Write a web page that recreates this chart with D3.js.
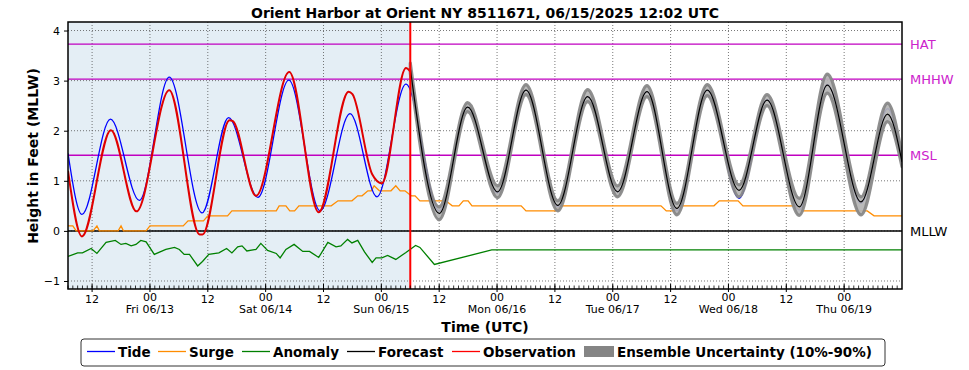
<!DOCTYPE html>
<html>
<head>
<meta charset="utf-8">
<script src="https://cdn.jsdelivr.net/npm/d3@7"></script>
<style>
  body { margin: 0; background: #fff; }
  text { font-family: "DejaVu Sans", sans-serif; }
</style>
</head>
<body>
<svg width="969" height="370"></svg>
<script>
// hours since 2025-06-12 07:00 UTC, water level in feet above MLLW
let tideHours = [0, 2.9, 8.8, 14.8, 21.0, 27.8, 33.3, 39.4, 45.8, 52.3, 58.5, 64.1, 70.1, 77.0, 82.9, 89.1, 95.0, 101.6, 107.8, 114.0, 120.1, 126.3, 132.6, 139.2, 145.0, 151.7, 157.5, 164.5, 170.0, 173.0];
let tideValues = [1.55, 0.33, 2.23, 0.61, 3.07, 0.36, 2.26, 0.67, 3.01, 0.40, 2.34, 0.68, 2.93, 0.40, 2.47, 0.76, 2.81, 0.48, 2.68, 0.78, 2.78, 0.40, 2.81, 0.65, 2.62, 0.42, 2.92, 0.55, 2.44, 1.38];

let obsHours = [0, 2.9, 8.9, 14.2, 21.0, 27.3, 27.9, 33.5, 34.2, 39.0, 45.9, 52.0, 58.2, 59.0, 63.1, 65.1, 70.1, 71.0];
let obsValues = [1.2, -0.11, 2.01, 0.39, 2.81, -0.07, -0.07, 2.21, 2.19, 0.70, 3.17, 0.37, 2.78, 2.73, 1.13, 0.95, 3.25, 3.18];

let fcHours = [71.0, 77.0, 82.9, 89.1, 95.0, 101.6, 107.8, 114.0, 120.1, 126.3, 132.6, 139.2, 145.0, 151.7, 157.5, 164.5, 170.0, 173.0];
let fcValues = [3.25, 0.35, 2.47, 0.78, 2.81, 0.51, 2.68, 0.78, 2.78, 0.45, 2.81, 0.81, 2.61, 0.48, 2.91, 0.58, 2.33, 1.38];
let ensLow = [3.15, 0.22, 2.38, 0.66, 2.72, 0.40, 2.58, 0.68, 2.68, 0.32, 2.70, 0.68, 2.50, 0.31, 2.75, 0.32, 2.18, 1.28];
let ensHigh = [3.35, 0.48, 2.56, 0.90, 2.92, 0.60, 2.82, 0.90, 2.90, 0.55, 2.92, 0.92, 2.72, 0.65, 3.13, 0.68, 2.55, 1.50];

let surgeHours = [0, 1.0, 1.7, 5.2, 6.0, 6.5, 10.4, 11.0, 11.5, 16.2, 17.0, 23.9, 24.9, 28.1, 29.0, 33.1, 34.0, 43.2, 43.8, 45.2, 46.0, 47.0, 47.9, 54.6, 56.0, 58.9, 60.1, 61.0, 62.2, 62.9, 63.5, 64.6, 67.0, 68.0, 68.9, 69.9, 71.2, 72.0, 73.0, 78.4, 79.7, 81.1, 82.0, 83.0, 83.8, 94.0, 95.0, 101.2, 102.0, 123.0, 124.1, 125.9, 126.8, 134.0, 135.1, 139.0, 140.0, 150.8, 152.3, 165.8, 167.2, 173.0];
let surgeValues = [0.1, 0.1, 0.0, 0.0, 0.1, 0.0, 0.0, 0.1, 0.0, 0.0, 0.1, 0.1, 0.2, 0.2, 0.3, 0.3, 0.4, 0.4, 0.5, 0.5, 0.4, 0.4, 0.5, 0.5, 0.6, 0.6, 0.7, 0.7, 0.8, 0.8, 0.9, 0.8, 0.8, 0.9, 0.8, 0.8, 0.7, 0.7, 0.6, 0.6, 0.5, 0.5, 0.6, 0.6, 0.5, 0.5, 0.4, 0.4, 0.5, 0.5, 0.4, 0.4, 0.5, 0.5, 0.6, 0.6, 0.5, 0.5, 0.4, 0.4, 0.3, 0.3];

let anomHours = [0, 2.0, 3.0, 4.8, 6.0, 7.9, 9.8, 11.0, 12.0, 13.1, 14.1, 15.1, 16.2, 17.9, 20.3, 22.1, 23.1, 24.1, 25.2, 26.9, 27.9, 29.2, 31.3, 32.9, 34.0, 35.2, 36.1, 37.1, 39.0, 40.0, 41.4, 43.2, 44.0, 45.2, 46.9, 48.7, 50.1, 52.0, 53.9, 55.6, 56.6, 58.0, 58.9, 60.1, 61.5, 63.1, 63.9, 65.1, 66.3, 68.0, 70.1, 72.1, 73.0, 76.0, 87.9, 173.0];
let anomValues = [-0.51, -0.44, -0.44, -0.35, -0.45, -0.23, -0.19, -0.27, -0.25, -0.30, -0.27, -0.19, -0.22, -0.47, -0.37, -0.33, -0.37, -0.47, -0.47, -0.70, -0.61, -0.47, -0.44, -0.35, -0.44, -0.32, -0.30, -0.40, -0.37, -0.25, -0.39, -0.45, -0.54, -0.37, -0.27, -0.41, -0.41, -0.53, -0.23, -0.32, -0.30, -0.17, -0.24, -0.19, -0.42, -0.63, -0.54, -0.54, -0.49, -0.57, -0.43, -0.29, -0.33, -0.67, -0.38, -0.38];

let levelNames = ["HAT", "MHHW", "MSL", "MLLW"];
let levelValues = [3.73, 3.03, 1.51, 0];
let yTicks = [-1, 0, 1, 2, 3, 4];

let legendNames = ["Tide", "Surge", "Anomaly", "Forecast", "Observation"];
let legendColors = ["#0000ff", "#ff8c00", "#008000", "#000000", "#ff0000"];

var svg = d3.select("svg");
let mLeft = 68, mRight = 902, mTop = 22, mBottom = 289;

let t0 = Date.UTC(2025, 5, 12, 7);
let toDate = h => new Date(t0 + h * 3600e3);
let nowTime = new Date(Date.UTC(2025, 5, 15, 6));

let x = d3.scaleUtc()
  .domain([toDate(0), new Date(Date.UTC(2025, 5, 19, 12))])
  .range([mLeft, mRight]);
let y = d3.scaleLinear().domain([-1.16, 4.17]).range([mBottom, mTop]);

let pairs = (hs, vs) => hs.map((h, i) => ({ t: toDate(h), v: vs[i] }));
let line = d3.line().x(d => x(d.t)).y(d => y(d.v)).curve(d3.curveMonotoneX);

svg.append("defs").append("clipPath").attr("id", "clip")
  .append("rect").attr("x", mLeft).attr("y", mTop).attr("width", mRight - mLeft).attr("height", mBottom - mTop);

// hindcast shading
svg.append("rect")
  .attr("x", mLeft).attr("y", mTop)
  .attr("width", x(nowTime) - mLeft).attr("height", mBottom - mTop)
  .attr("fill", "#e4eef5");

let majorTicks = d3.utcHour.every(12).range(x.domain()[0], x.domain()[1]);
let minorTicks = d3.utcHour.range(x.domain()[0], x.domain()[1]);

// grid
svg.append("g").selectAll("line").data(majorTicks).enter().append("line")
  .attr("x1", d => x(d)).attr("x2", d => x(d)).attr("y1", mTop).attr("y2", mBottom)
  .attr("stroke", "#555").attr("stroke-width", 0.8).attr("stroke-dasharray", "1,2");
svg.append("g").selectAll("line").data(yTicks).enter().append("line")
  .attr("x1", mLeft).attr("x2", mRight).attr("y1", d => y(d)).attr("y2", d => y(d))
  .attr("stroke", "#555").attr("stroke-width", 0.8).attr("stroke-dasharray", "1,2");

// datum lines
svg.append("g").selectAll("line").data(levelValues).enter().append("line")
  .attr("x1", mLeft).attr("x2", mRight).attr("y1", d => y(d)).attr("y2", d => y(d))
  .attr("stroke", (d, i) => levelNames[i] == "MLLW" ? "#000" : "#c000c0")
  .attr("stroke-width", (d, i) => levelNames[i] == "MLLW" ? 1.5 : 1.3);
svg.append("g").selectAll("text").data(levelValues).enter().append("text")
  .attr("x", 910).attr("y", d => y(d) + 5)
  .attr("font-size", 13)
  .attr("fill", (d, i) => levelNames[i] == "MLLW" ? "#000" : "#cc22cc")
  .text((d, i) => levelNames[i]);

let plot = svg.append("g").attr("clip-path", "url(#clip)");

plot.append("path").datum(pairs(surgeHours, surgeValues))
  .attr("d", d3.line().x(d => x(d.t)).y(d => y(d.v)))
  .attr("fill", "none").attr("stroke", "#ff8c00").attr("stroke-width", 1.3);
plot.append("path").datum(pairs(anomHours, anomValues))
  .attr("d", d3.line().x(d => x(d.t)).y(d => y(d.v)))
  .attr("fill", "none").attr("stroke", "#008000").attr("stroke-width", 1.3);

plot.append("path").datum(pairs(tideHours, tideValues))
  .attr("d", line)
  .attr("fill", "none").attr("stroke", "#0000ff").attr("stroke-width", 1.3);

// ensemble band
let band = fcHours.map((h, i) => ({ t: toDate(h), lo: ensLow[i], hi: ensHigh[i] }));
plot.append("path").datum(band)
  .attr("d", d3.area().x(d => x(d.t)).y0(d => y(d.lo)).y1(d => y(d.hi)).curve(d3.curveMonotoneX))
  .attr("fill", "#b4b4b4").attr("fill-opacity", 0.92)
  .attr("stroke", "#858585").attr("stroke-width", 3.2).attr("stroke-opacity", 0.92)
  .attr("stroke-linejoin", "round");

plot.append("path").datum(pairs(fcHours, fcValues))
  .attr("d", line)
  .attr("fill", "none").attr("stroke", "#000").attr("stroke-width", 1.2);

plot.append("path").datum(pairs(obsHours, obsValues))
  .attr("d", line)
  .attr("fill", "none").attr("stroke", "#e00000").attr("stroke-width", 2);

// now line
svg.append("line")
  .attr("x1", x(nowTime)).attr("x2", x(nowTime)).attr("y1", mTop).attr("y2", mBottom)
  .attr("stroke", "#ff0000").attr("stroke-width", 2);

// frame
svg.append("rect")
  .attr("x", mLeft).attr("y", mTop).attr("width", mRight - mLeft).attr("height", mBottom - mTop)
  .attr("fill", "none").attr("stroke", "#000").attr("stroke-width", 1.5);

// y axis
let yAxis = svg.append("g").attr("transform", `translate(${mLeft},0)`)
  .call(d3.axisLeft(y).tickValues(yTicks).tickSize(4).tickPadding(4).tickFormat(d3.format("d")));
yAxis.select(".domain").remove();
yAxis.selectAll("text").attr("font-size", 11).attr("font-family", "DejaVu Sans").attr("fill", "#000");

// x axis ticks
svg.append("g").selectAll("line").data(minorTicks).enter().append("line")
  .attr("x1", d => x(d)).attr("x2", d => x(d)).attr("y1", mBottom).attr("y2", mBottom - 3.5)
  .attr("stroke", "#000").attr("stroke-width", 0.8);
svg.append("g").selectAll("line").data(majorTicks).enter().append("line")
  .attr("x1", d => x(d)).attr("x2", d => x(d)).attr("y1", mBottom - 5).attr("y2", mBottom + 3)
  .attr("stroke", "#000").attr("stroke-width", 1);
svg.append("g").selectAll("text").data(majorTicks).enter().append("text")
  .attr("x", d => x(d)).attr("y", d => d.getUTCHours() == 0 ? 301 : 303)
  .attr("text-anchor", "middle").attr("font-size", 11)
  .text(d3.utcFormat("%H"));
svg.append("g").selectAll("text").data(majorTicks.filter(d => d.getUTCHours() == 0)).enter().append("text")
  .attr("x", d => x(d)).attr("y", 313)
  .attr("text-anchor", "middle").attr("font-size", 11)
  .text(d3.utcFormat("%a %m/%d"));

// titles
svg.append("text").attr("x", (mLeft + mRight) / 2).attr("y", 18)
  .attr("text-anchor", "middle").attr("font-size", 14).attr("font-weight", "bold")
  .attr("textLength", 468).attr("lengthAdjust", "spacingAndGlyphs")
  .text("Orient Harbor at Orient NY 8511671, 06/15/2025 12:02 UTC");
svg.append("text").attr("x", (mLeft + mRight) / 2).attr("y", 332)
  .attr("text-anchor", "middle").attr("font-size", 14).attr("font-weight", "bold")
  .text("Time (UTC)");
svg.append("text").attr("transform", "translate(38,156) rotate(-90)")
  .attr("text-anchor", "middle").attr("font-size", 14).attr("font-weight", "bold")
  .text("Height in Feet (MLLW)");

// legend
let legend = svg.append("g");
legend.append("rect").attr("x", 81).attr("y", 339).attr("width", 804).attr("height", 27)
  .attr("rx", 3).attr("fill", "#fff").attr("stroke", "#333").attr("stroke-width", 1);
let legendX = [87, 158, 242, 347, 452];
legendNames.forEach((name, i) => {
  legend.append("line").attr("x1", legendX[i]).attr("x2", legendX[i] + 28)
    .attr("y1", 351.5).attr("y2", 351.5).attr("stroke", legendColors[i]).attr("stroke-width", 1.3);
  legend.append("text").attr("x", legendX[i] + 31).attr("y", 357)
    .attr("font-size", 13.5).attr("font-weight", "bold").text(name);
});
legend.append("rect").attr("x", 584).attr("y", 346).attr("width", 30).attr("height", 11).attr("fill", "#858585");
legend.append("text").attr("x", 617).attr("y", 357)
  .attr("font-size", 13.5).attr("font-weight", "bold").text("Ensemble Uncertainty (10%-90%)");
</script>
</body>
</html>
